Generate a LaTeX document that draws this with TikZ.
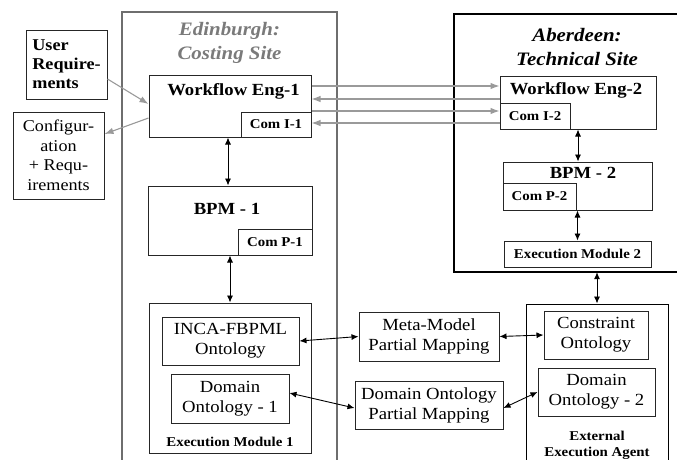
\documentclass[tikz,border=0pt]{standalone}
\usepackage{fontspec}
\setmainfont[FakeStretch=1.1]{Liberation Serif}
\usetikzlibrary{arrows.meta}
\definecolor{framegray}{HTML}{6E6E6E}
\definecolor{linkgray}{HTML}{9A9A9A}
\definecolor{titlegray}{HTML}{7A7A7A}
\tikzset{
  box/.style={draw=black!85, line width=1pt, inner sep=0pt},
  frame/.style={inner sep=0pt},
  lbl/.style={font=\fontsize{17}{20}\selectfont, align=center},
  blbl/.style={font=\bfseries\fontsize{17}{20}\selectfont, inner sep=0pt},
  sml/.style={font=\bfseries\fontsize{13.5}{16}\selectfont, align=center},
  sitetitle/.style={font=\bfseries\itshape\fontsize{19}{24}\selectfont, align=center},
  biarrow/.style={<->, >={Latex[length=7pt,width=6pt]}, line width=0.9pt},
  grayarrow/.style={->, >={Latex[length=9pt,width=6.5pt]}, draw=linkgray, line width=1.1pt},
}
\begin{document}
\begin{tikzpicture}[x=1pt,y=-1pt]
\useasboundingbox (0,0) rectangle (677,459);

% site frames (open where they run off the page)
\node[frame, draw=framegray, line width=2pt, minimum width=215, minimum height=468] (edin) at (229.5,246) {};
\node[frame, minimum width=226, minimum height=258] (aber) at (567,143) {};
\draw[line width=2.4pt] (aber.north east) -- (aber.north west) -- (aber.south west) -- (aber.south east);
\node[frame, draw=black, line width=1pt, minimum width=142, minimum height=176] (ext) at (597,392) {};

\node[sitetitle, text=titlegray] (edtitle) at (229.5,43) {Edinburgh:\\Costing Site};
\node[sitetitle, text=black] (abtitle) at (577,47) {Aberdeen:\\Technical Site};
\node[sml] (exttitle) at (597,445) {External\\Execution Agent};

% external inputs and outputs
\node[box, font=\bfseries\fontsize{16.5}{19}\selectfont, align=left, minimum width=81, minimum height=69] (ureq) at (66.5,64.5) {User\\Require-\\ments};
\node[box, font=\fontsize{16.5}{19.5}\selectfont, align=center, minimum width=91, minimum height=87] (config) at (58.5,155.5) {Configur-\\ation\\+ Requ-\\irements};

% Edinburgh components
\node[box, minimum width=162, minimum height=62] (we1) at (230,106) {};
\node[blbl] (we1txt) at (233.5,91) {Workflow Eng-1};
\node[box, sml, minimum width=70, minimum height=25] (comi1) at (276,124.5) {Com I-1};

\node[box, minimum width=164, minimum height=69] (bpm1) at (230,220.5) {};
\node[blbl] (bpm1txt) at (227,209) {BPM - 1};
\node[box, sml, minimum width=74, minimum height=26] (comp1) at (275,242) {Com P-1};

\node[box, minimum width=162, minimum height=150] (em1) at (230,378) {};
\node[sml] (em1txt) at (230,442) {Execution Module 1};
\node[box, lbl, minimum width=137, minimum height=48] (inca) at (230.5,341) {INCA-FBPML\\Ontology};
\node[box, lbl, minimum width=118, minimum height=49] (do1) at (230,398.5) {Domain\\Ontology - 1};

% mappings
\node[box, lbl, minimum width=140, minimum height=49] (mm) at (429,336.5) {Meta-Model\\Partial Mapping};
\node[box, lbl, minimum width=148, minimum height=48] (dopm) at (429,405) {Domain Ontology\\Partial Mapping};

% Aberdeen components
\node[box, minimum width=156, minimum height=53] (we2) at (578,102.5) {};
\node[blbl] (we2txt) at (576,90) {Workflow Eng-2};
\node[box, sml, minimum width=70, minimum height=26] (comi2) at (535,116) {Com I-2};

\node[box, minimum width=149, minimum height=48] (bpm2) at (577.5,186) {};
\node[blbl] (bpm2txt) at (583,172.5) {BPM - 2};
\node[box, sml, minimum width=73, minimum height=27] (comp2) at (539.5,196.5) {Com P-2};

\node[box, sml, minimum width=147, minimum height=26] (em2) at (577.5,254) {Execution Module 2};

% external execution agent contents
\node[box, lbl, minimum width=104, minimum height=48] (co) at (596,335) {Constraint\\Ontology};
\node[box, lbl, minimum width=117, minimum height=48] (do2) at (596.5,392) {Domain\\Ontology - 2};

% user requirement flows
\draw[grayarrow] ([yshift=-14.5pt]ureq.east) -- ([yshift=2pt]we1.west);
\draw[grayarrow] ([yshift=-12pt]we1.west) -- ([yshift=21.5pt]config.east);

% inter-site messages
\coordinate (m1) at ([yshift=20pt]we1.east);
\coordinate (m2) at ([yshift=7pt]we1.east);
\coordinate (m3) at ([yshift=-5pt]we1.east);
\coordinate (m4) at ([yshift=-17pt]we1.east);
\draw[grayarrow] (m1) -- (m1 -| we2.west);
\draw[grayarrow] (m2 -| we2.west) -- (m2);
\draw[grayarrow] (m3) -- (m3 -| comi2.west);
\draw[grayarrow] (m4 -| comi2.west) -- (m4);

% vertical links
\coordinate (v1) at ([xshift=-2pt]we1.south);
\draw[biarrow] (v1) -- (v1 |- bpm1.north);
\draw[biarrow] (bpm1.south) -- (bpm1.south |- em1.north);
\draw[biarrow] (we2.south) -- (we2.south |- bpm2.north);
\draw[biarrow] (bpm2.south) -- (bpm2.south |- em2.north);
\draw[biarrow] (aber.south -| ext.north) -- (ext.north);

% ontology mappings
\draw[biarrow] (inca.east) -- (mm.west);
\draw[biarrow] (mm.east) -- (co.west);
\draw[biarrow] ([yshift=5.5pt]do1.east) -- ([yshift=-3pt]dopm.west);
\draw[biarrow] ([yshift=-3pt]dopm.east) -- (do2.west);
\end{tikzpicture}
\end{document}
